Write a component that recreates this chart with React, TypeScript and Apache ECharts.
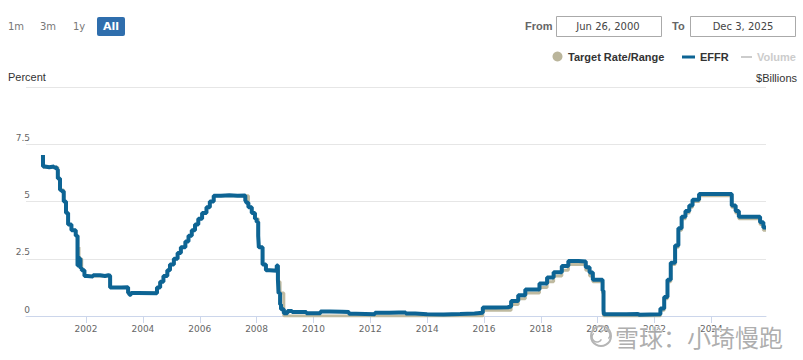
import React, { useEffect, useRef } from "react";
import * as echarts from "echarts";

// ---- Data ----
const axisStart = "1999-11-21";
const axisEnd = "2025-12-03";
const tickYears = ["2002", "2004", "2006", "2008", "2010", "2012", "2014", "2016", "2018", "2020", "2022", "2024"];
const yTicks = [0, 2.5, 5, 7.5, 10];

const targetDates = [
  "2000-06-26", "2001-01-03", "2001-01-31", "2001-03-20", "2001-04-18", "2001-05-15", "2001-06-27",
  "2001-08-21", "2001-09-17", "2001-10-02", "2001-11-06", "2001-12-11", "2002-11-06", "2003-06-25",
  "2004-06-30", "2004-08-10", "2004-09-21", "2004-11-10", "2004-12-14", "2005-02-02", "2005-03-22",
  "2005-05-03", "2005-06-30", "2005-08-09", "2005-09-20", "2005-11-01", "2005-12-13", "2006-01-31",
  "2006-03-28", "2006-05-10", "2006-06-29", "2007-09-18", "2007-10-31", "2007-12-11", "2008-01-22",
  "2008-01-30", "2008-03-18", "2008-04-30", "2008-10-08", "2008-10-29", "2008-12-16", "2015-12-17",
  "2016-12-15", "2017-03-16", "2017-06-15", "2017-12-14", "2018-03-22", "2018-06-14", "2018-09-27",
  "2018-12-20", "2019-08-01", "2019-09-19", "2019-10-31", "2020-03-04", "2020-03-16", "2022-03-17",
  "2022-05-05", "2022-06-16", "2022-07-28", "2022-09-22", "2022-11-03", "2022-12-15", "2023-02-02",
  "2023-03-23", "2023-05-04", "2023-07-27", "2024-09-19", "2024-11-08", "2024-12-19", "2025-09-18",
  "2025-10-30", "2025-12-03",
];
const targetLow = [
  6.5, 6.0, 5.5, 5.0, 4.5, 4.0, 3.75,
  3.5, 3.0, 2.5, 2.0, 1.75, 1.25, 1.0,
  1.25, 1.5, 1.75, 2.0, 2.25, 2.5, 2.75,
  3.0, 3.25, 3.5, 3.75, 4.0, 4.25, 4.5,
  4.75, 5.0, 5.25, 4.75, 4.5, 4.25, 3.5,
  3.0, 2.25, 2.0, 1.5, 1.0, 0.0, 0.25,
  0.5, 0.75, 1.0, 1.25, 1.5, 1.75, 2.0,
  2.25, 2.0, 1.75, 1.5, 1.0, 0.0, 0.25,
  0.75, 1.5, 2.25, 3.0, 3.75, 4.25, 4.5,
  4.75, 5.0, 5.25, 4.75, 4.5, 4.25, 4.0,
  3.75, 3.75,
];
const targetHigh = [
  6.5, 6.0, 5.5, 5.0, 4.5, 4.0, 3.75,
  3.5, 3.0, 2.5, 2.0, 1.75, 1.25, 1.0,
  1.25, 1.5, 1.75, 2.0, 2.25, 2.5, 2.75,
  3.0, 3.25, 3.5, 3.75, 4.0, 4.25, 4.5,
  4.75, 5.0, 5.25, 4.75, 4.5, 4.25, 3.5,
  3.0, 2.25, 2.0, 1.5, 1.0, 0.25, 0.5,
  0.75, 1.0, 1.25, 1.5, 1.75, 2.0, 2.25,
  2.5, 2.25, 2.0, 1.75, 1.25, 0.25, 0.5,
  1.0, 1.75, 2.5, 3.25, 4.0, 4.5, 4.75,
  5.0, 5.25, 5.5, 5.0, 4.75, 4.5, 4.25,
  4.0, 4.0,
];

const effrDates = [
  "2000-06-26", "2000-06-27", "2000-07-20", "2000-09-15", "2000-11-15", "2000-12-20", "2001-01-03",
  "2001-01-31", "2001-02-20", "2001-03-20", "2001-04-18", "2001-05-15", "2001-06-27", "2001-08-21",
  "2001-09-13", "2001-09-24", "2001-10-02", "2001-10-20", "2001-11-06", "2001-12-11", "2002-01-15",
  "2002-04-01", "2002-07-01", "2002-09-01", "2002-10-15", "2002-11-06", "2003-01-15", "2003-04-01",
  "2003-06-25", "2003-07-10", "2003-08-01", "2003-11-01", "2004-06-30", "2004-08-10", "2004-09-21",
  "2004-11-10", "2004-12-14", "2005-02-02", "2005-03-22", "2005-05-03", "2005-06-30", "2005-08-09",
  "2005-09-20", "2005-11-01", "2005-12-13", "2006-01-31", "2006-03-28", "2006-05-10", "2006-06-29",
  "2006-10-01", "2007-01-15", "2007-05-01", "2007-08-09", "2007-08-20", "2007-09-18", "2007-10-31",
  "2007-12-11", "2008-01-02", "2008-01-22", "2008-01-30", "2008-03-18", "2008-04-30", "2008-06-15",
  "2008-09-16", "2008-10-01", "2008-10-09", "2008-10-29", "2008-11-10", "2008-12-16", "2009-02-01",
  "2009-04-01", "2009-07-01", "2009-10-01", "2010-01-01", "2010-04-01", "2010-08-01", "2011-01-01",
  "2011-04-01", "2011-07-01", "2012-03-01", "2012-09-01", "2013-01-01", "2013-04-01", "2013-08-01",
  "2014-01-01", "2014-08-01", "2015-03-01", "2015-09-01", "2015-12-17", "2016-06-01", "2016-11-01",
  "2016-12-15", "2017-03-16", "2017-06-15", "2017-12-14", "2018-03-22", "2018-06-14", "2018-09-27",
  "2018-12-20", "2019-05-01", "2019-08-01", "2019-09-19", "2019-10-31", "2020-03-04", "2020-03-16",
  "2020-03-20", "2020-06-01", "2021-01-01", "2021-06-01", "2021-06-17", "2022-03-17", "2022-05-05",
  "2022-06-16", "2022-07-28", "2022-09-22", "2022-11-03", "2022-12-15", "2023-02-02", "2023-03-23",
  "2023-05-04", "2023-07-27", "2024-09-19", "2024-11-08", "2024-12-19", "2025-09-18", "2025-10-30",
  "2025-12-03",
];
const effrValues = [
  7.03, 6.53, 6.5, 6.53, 6.49, 6.4, 6.0,
  5.5, 5.45, 5.0, 4.5, 4.0, 3.75, 3.5,
  2.2, 2.6, 2.5, 2.1, 2.0, 1.75, 1.72,
  1.78, 1.75, 1.78, 1.76, 1.25, 1.24, 1.26,
  1.0, 0.93, 1.0, 0.99, 1.25, 1.5, 1.75,
  2.0, 2.25, 2.5, 2.75, 3.0, 3.25, 3.5,
  3.75, 4.0, 4.25, 4.5, 4.75, 5.0, 5.25,
  5.27, 5.25, 5.26, 5.02, 4.95, 4.75, 4.5,
  4.25, 4.1, 3.5, 3.0, 2.25, 2.0, 1.98,
  2.2, 1.6, 1.0, 0.5, 0.3, 0.12, 0.22,
  0.18, 0.17, 0.12, 0.12, 0.2, 0.19, 0.17,
  0.1, 0.08, 0.14, 0.15, 0.15, 0.11, 0.08,
  0.07, 0.09, 0.11, 0.14, 0.37, 0.38, 0.41,
  0.66, 0.91, 1.16, 1.42, 1.68, 1.91, 2.18,
  2.4, 2.38, 2.13, 1.9, 1.58, 1.1, 0.25,
  0.08, 0.08, 0.09, 0.06, 0.08, 0.33, 0.83,
  1.58, 2.33, 3.08, 3.83, 4.33, 4.58, 4.83,
  5.08, 5.33, 4.83, 4.58, 4.33, 4.09, 3.87,
  3.89,
];

const ranges = ["1m", "3m", "1y"];
const fromText = "Jun 26, 2000";
const toText = "Dec 3, 2025";

const BLUE = "#0d6494";
const BEIGE = "#bfbaa0";
const t = (s: string) => Date.parse(s);

export default function App() {
  const ref = useRef<HTMLDivElement>(null);

  useEffect(() => {
    document.body.style.margin = "0";
    const chart = echarts.init(ref.current!, null, { renderer: "svg" });

    const lowData = targetDates.map((d, i) => [t(d), targetLow[i]]);
    const bandData = targetDates.map((d, i) => [t(d), targetHigh[i] - targetLow[i]]);
    const effrData = effrDates.map((d, i) => [t(d), effrValues[i]]);
    const tickValues = tickYears.map((y) => t(y + "-01-01"));

    const labelFont = "DejaVu Sans";
    const graphics: any[] = [];
    const rx = [8, 40, 73];
    ranges.forEach((r, i) => {
      graphics.push({
        type: "text", x: rx[i], y: 26,
        style: { text: r, fill: "#777", font: `10px '${labelFont}'`, verticalAlign: "middle" },
      });
    });
    graphics.push(
      { type: "rect", shape: { x: 97, y: 17, width: 28, height: 19, r: 2 }, style: { fill: "#2f6ead" } },
      { type: "text", x: 111, y: 26.5, style: { text: "All", fill: "#fff", font: `bold 11px '${labelFont}'`, align: "center", verticalAlign: "middle" } },
      { type: "text", x: 525, y: 26, style: { text: "From", fill: "#666", font: "bold 11px 'Liberation Sans'", verticalAlign: "middle" } },
      { type: "rect", shape: { x: 556.5, y: 16.5, width: 105, height: 20 }, style: { fill: "#fff", stroke: "#aaa", lineWidth: 1 } },
      { type: "text", x: 608, y: 26.5, style: { text: fromText, fill: "#444", font: `10px '${labelFont}'`, align: "center", verticalAlign: "middle" } },
      { type: "text", x: 672, y: 26, style: { text: "To", fill: "#666", font: "bold 11px 'Liberation Sans'", verticalAlign: "middle" } },
      { type: "rect", shape: { x: 690.5, y: 16.5, width: 105, height: 20 }, style: { fill: "#fff", stroke: "#aaa", lineWidth: 1 } },
      { type: "text", x: 743, y: 26.5, style: { text: toText, fill: "#444", font: `10px '${labelFont}'`, align: "center", verticalAlign: "middle" } },
      // legend
      { type: "circle", shape: { cx: 557.5, cy: 56.5, r: 5 }, style: { fill: "#bab59b" } },
      { type: "text", x: 568, y: 57, style: { text: "Target Rate/Range", fill: "#333", font: "bold 11px 'Liberation Sans'", verticalAlign: "middle" } },
      { type: "rect", shape: { x: 682, y: 55.5, width: 13, height: 3 }, style: { fill: BLUE } },
      { type: "text", x: 700, y: 57, style: { text: "EFFR", fill: "#333", font: "bold 11px 'Liberation Sans'", verticalAlign: "middle" } },
      { type: "rect", shape: { x: 741, y: 56, width: 11, height: 2 }, style: { fill: "#ccc" } },
      { type: "text", x: 757, y: 57, style: { text: "Volume", fill: "#ccc", font: "bold 11px 'Liberation Sans'", verticalAlign: "middle" } },
      // axis titles
      { type: "text", x: 8, y: 77, style: { text: "Percent", fill: "#333", font: "11px 'Liberation Sans'", verticalAlign: "middle" } },
      { type: "text", x: 797, y: 78, style: { text: "$Billions", fill: "#333", font: "11px 'Liberation Sans'", align: "right", verticalAlign: "middle" } },
      // watermark
      { type: "circle", shape: { cx: 601, cy: 336, r: 10 }, style: { fill: "none", stroke: "#b5b5b5", lineWidth: 2 }, z: 100 },
      { type: "arc", shape: { cx: 597, cy: 337, r: 5, startAngle: 0.5, endAngle: 4 }, style: { fill: "none", stroke: "#b5b5b5", lineWidth: 1.5 }, z: 100 },
      { type: "arc", shape: { cx: 605, cy: 335, r: 5, startAngle: 3.6, endAngle: 7.1 }, style: { fill: "none", stroke: "#b5b5b5", lineWidth: 1.5 }, z: 100 },
      { type: "text", x: 615, y: 336, z: 100, style: { text: "雪球：小琦慢跑", fill: "rgba(160,160,160,0.85)", stroke: "#ffffff", lineWidth: 1, font: "24px 'Noto Sans CJK SC'", verticalAlign: "middle" } },
    );

    chart.setOption({
      animation: false,
      grid: { left: 26, right: 37, top: 87, bottom: 44, containLabel: false },
      xAxis: {
        type: "value",
        min: t(axisStart),
        max: t(axisEnd),
        axisLine: { lineStyle: { color: "#ccd6eb", width: 1 } },
        axisTick: { show: true, length: 7, lineStyle: { color: "#ccd6eb" }, customValues: tickValues },
        axisLabel: {
          customValues: tickValues,
          color: "#666",
          fontSize: 9,
          fontFamily: labelFont,
          margin: 8,
          formatter: (v: number) => String(new Date(v).getUTCFullYear()),
        },
        splitLine: { show: false },
      },
      yAxis: {
        type: "value",
        min: yTicks[0],
        max: yTicks[yTicks.length - 1],
        interval: 2.5,
        axisLine: { show: false },
        axisTick: { show: false },
        splitLine: { lineStyle: { color: "#e6e6e6", width: 1 } },
        axisLabel: {
          color: "#666",
          fontSize: 9,
          fontFamily: labelFont,
          align: "right",
          verticalAlign: "bottom",
          margin: -4,
          padding: [0, 0, 2, 0],
          formatter: (v: number) => (v === 10 ? "" : String(v)),
        },
      },
      series: [
        {
          name: "Target Low",
          type: "line",
          stack: "range",
          step: "end",
          data: lowData,
          showSymbol: false,
          lineStyle: { color: BEIGE, width: 3 },
          z: 1,
        },
        {
          name: "Target Rate/Range",
          type: "line",
          stack: "range",
          step: "end",
          data: bandData,
          showSymbol: false,
          lineStyle: { color: BEIGE, width: 3 },
          areaStyle: { color: BEIGE, opacity: 1 },
          z: 2,
        },
        {
          name: "EFFR",
          type: "line",
          step: "end",
          data: effrData,
          showSymbol: false,
          lineStyle: { color: BLUE, width: 4 },
          z: 3,
        },
      ],
      graphic: { elements: graphics },
    });

    return () => chart.dispose();
  }, []);

  return <div ref={ref} style={{ position: "absolute", left: 0, top: 0, width: 803, height: 360 }} />;
}
